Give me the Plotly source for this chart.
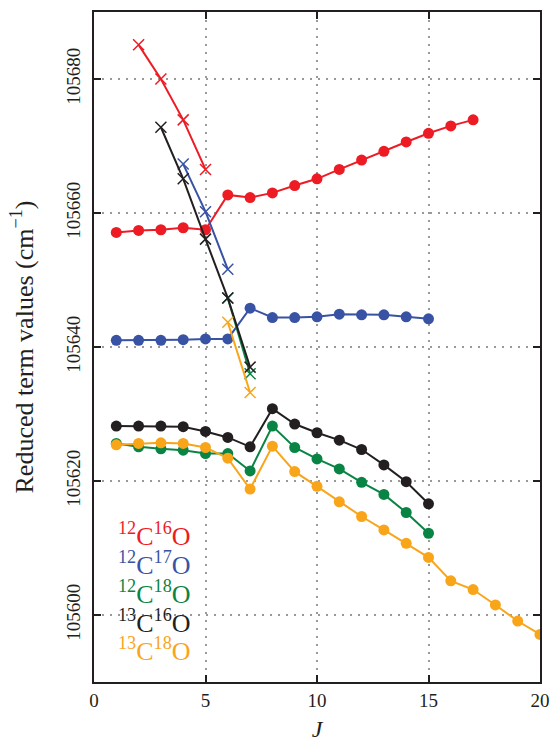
import plotly.graph_objects as go

# Reduced term values (cm^-1) vs rotational quantum number J
J_12C16O_e = [1, 2, 3, 4, 5, 6, 7, 8, 9, 10, 11, 12, 13, 14, 15, 16, 17]
T_12C16O_e = [105657.1, 105657.4, 105657.5, 105657.8, 105657.5, 105662.7, 105662.3,
              105663.0, 105664.1, 105665.1, 105666.5, 105667.9, 105669.2, 105670.6,
              105671.9, 105673.0, 105673.9]
J_12C16O_f = [2, 3, 4, 5]
T_12C16O_f = [105685.1, 105680.0, 105673.9, 105666.5]

J_12C17O_e = [1, 2, 3, 4, 5, 6, 7, 8, 9, 10, 11, 12, 13, 14, 15]
T_12C17O_e = [105641.0, 105641.0, 105641.0, 105641.1, 105641.2, 105641.2, 105645.8,
              105644.4, 105644.4, 105644.5, 105644.9, 105644.8, 105644.8, 105644.5,
              105644.2]
J_12C17O_f = [4, 5, 6]
T_12C17O_f = [105667.3, 105660.2, 105651.6]

J_12C18O_e = [1, 2, 3, 4, 5, 6, 7, 8, 9, 10, 11, 12, 13, 14, 15]
T_12C18O_e = [105625.6, 105625.1, 105624.8, 105624.6, 105624.1, 105624.1, 105621.5,
              105628.2, 105625.0, 105623.3, 105621.8, 105619.8, 105618.0, 105615.3,
              105612.2]
J_12C18O_f = [6, 7]
T_12C18O_f = [105647.3, 105636.0]

J_13C16O_e = [1, 2, 3, 4, 5, 6, 7, 8, 9, 10, 11, 12, 13, 14, 15]
T_13C16O_e = [105628.2, 105628.2, 105628.2, 105628.1, 105627.4, 105626.5, 105625.1,
              105630.8, 105628.5, 105627.2, 105626.1, 105624.7, 105622.4, 105619.9,
              105616.6]
J_13C16O_f = [3, 4, 5, 6, 7]
T_13C16O_f = [105672.8, 105665.1, 105656.1, 105647.3, 105637.0]

J_13C18O_e = [1, 2, 3, 4, 5, 6, 7, 8, 9, 10, 11, 12, 13, 14, 15, 16, 17, 18, 19, 20]
T_13C18O_e = [105625.4, 105625.6, 105625.7, 105625.6, 105625.0, 105623.4, 105618.8,
              105625.2, 105621.4, 105619.2, 105616.9, 105614.7, 105612.7, 105610.7,
              105608.6, 105605.1, 105603.8, 105601.5, 105599.1, 105597.1]
J_13C18O_f = [6, 7]
T_13C18O_f = [105643.7, 105633.2]

isotopologues = ["<sup>12</sup>C<sup>16</sup>O", "<sup>12</sup>C<sup>17</sup>O",
                 "<sup>12</sup>C<sup>18</sup>O", "<sup>13</sup>C<sup>16</sup>O",
                 "<sup>13</sup>C<sup>18</sup>O"]
colors = ["#ED1C24", "#3953A4", "#0A8445", "#231F20", "#F9A51A"]

x_ticks = [0, 5, 10, 15, 20]
y_ticks = [105600, 105620, 105640, 105660, 105680]

series = [
    (J_12C16O_e, T_12C16O_e, J_12C16O_f, T_12C16O_f),
    (J_12C17O_e, T_12C17O_e, J_12C17O_f, T_12C17O_f),
    (J_12C18O_e, T_12C18O_e, J_12C18O_f, T_12C18O_f),
    (J_13C16O_e, T_13C16O_e, J_13C16O_f, T_13C16O_f),
    (J_13C18O_e, T_13C18O_e, J_13C18O_f, T_13C18O_f),
]

FONT = "Liberation Serif"

fig = go.Figure()
for (je, te, jf, tf), name, col in zip(series, isotopologues, colors):
    fig.add_trace(go.Scatter(
        x=je, y=te, mode="lines+markers", name=name,
        line=dict(color=col, width=2),
        marker=dict(symbol="circle", size=11, color=col),
        showlegend=False))
    fig.add_trace(go.Scatter(
        x=jf, y=tf, mode="lines+markers", name=name,
        line=dict(color=col, width=2),
        marker=dict(symbol="x-thin", size=11, color=col,
                    line=dict(color=col, width=1.5)),
        showlegend=False))

# isotopologue labels in the lower-left corner
label_y = [105612.0, 105607.7, 105603.4, 105599.0, 105594.8]
for name, col, ly in zip(isotopologues, colors, label_y):
    fig.add_annotation(x=1.0, y=ly, xref="x", yref="y", text=name,
                       showarrow=False, xanchor="left", yanchor="middle",
                       font=dict(family=FONT, size=26, color=col))

axis_common = dict(
    showline=True, linecolor="#231F20", linewidth=2, mirror="ticks",
    ticks="inside", ticklen=7, tickwidth=1.5, tickcolor="#231F20",
    showgrid=True, gridcolor="#999999", griddash="2px,6px", gridwidth=1.5,
    zeroline=False, automargin=False,
    tickfont=dict(family=FONT, size=19, color="#231F20"),
)

fig.update_xaxes(range=[0, 20], tickvals=x_ticks,
                 title=dict(text="<i>J</i>", font=dict(family=FONT, size=24, color="#231F20"),
                            standoff=20),
                 **axis_common)
fig.update_yaxes(range=[105590, 105690], tickvals=y_ticks,
                 ticktext=[str(v) for v in y_ticks], tickangle=-90,
                 ticklabelstandoff=4,
                 title=dict(text="Reduced term values (cm<sup>−1</sup>)",
                            font=dict(family=FONT, size=26, color="#231F20"),
                            standoff=22),
                 **axis_common)

fig.update_layout(
    width=555, height=742,
    margin=dict(l=94, r=15, t=12, b=60),
    plot_bgcolor="white", paper_bgcolor="white",
    font=dict(family=FONT, color="#231F20"),
)

fig.write_html("out.html")
